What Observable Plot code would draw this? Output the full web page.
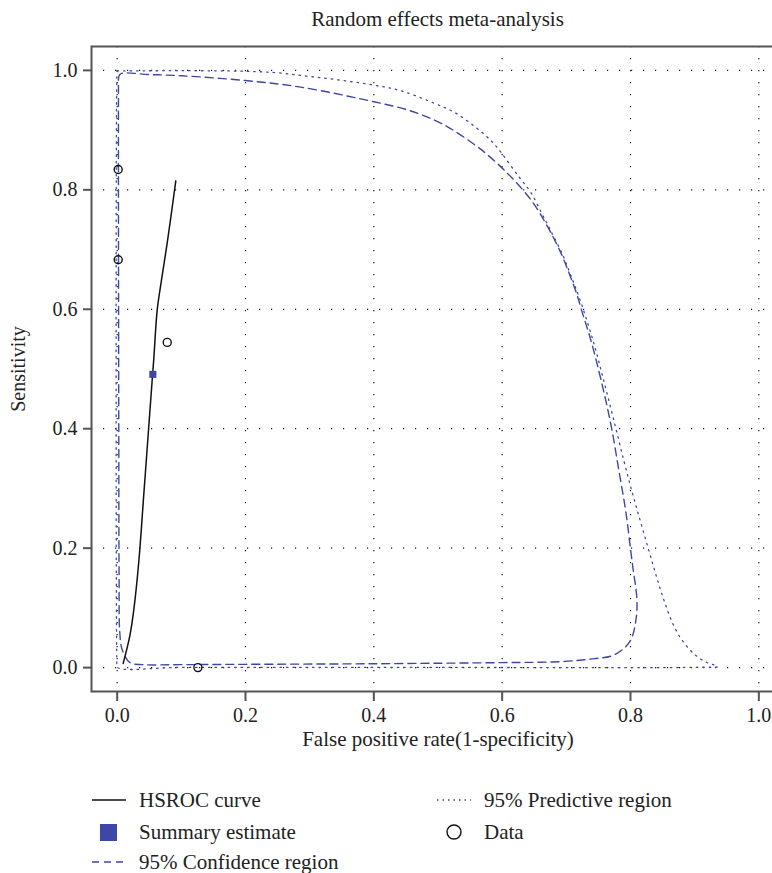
<!DOCTYPE html>
<html>
<head>
<meta charset="utf-8">
<script src="https://cdn.jsdelivr.net/npm/d3@7"></script>
<script src="https://cdn.jsdelivr.net/npm/@observablehq/plot@0.6"></script>
<style>
  html, body { margin: 0; padding: 0; background: #fff; overflow: hidden; }
  #wrap { position: relative; width: 772px; height: 873px; overflow: hidden; font-family: "Liberation Serif", "DejaVu Serif", serif; color: #222; }
  #title { position: absolute; left: 0; width: 875px; top: 7px; text-align: center; font-size: 21px; }
  #chart { position: absolute; left: 0; top: 0; width: 800px; }
  #chart svg { max-width: none !important; width: 800px; height: 762px; }
  .leg { position: absolute; display: flex; align-items: center; height: 30px; font-size: 21px; white-space: nowrap; }
  .leg svg { margin-right: 11px; }
</style>
</head>
<body>
<div id="wrap">
  <div id="chart"></div>
  <div id="title">Random effects meta-analysis</div>
  <div id="legend"></div>
</div>
<script>
// ---- data ----
const xTicks = [0, 0.2, 0.4, 0.6, 0.8, 1.0];
const yTicks = [0, 0.2, 0.4, 0.6, 0.8, 1.0];

// study data (FPR, sensitivity)
const dataFPR  = [0.0016, 0.0016, 0.078, 0.1258];
const dataSens = [0.834, 0.683, 0.5445, 0.0];

// summary estimate
const summaryFPR  = [0.0556];
const summarySens = [0.491];

// HSROC curve
const hsrocFPR  = [0.0094, 0.0197, 0.026, 0.034, 0.0415, 0.049, 0.0546, 0.057, 0.0624, 0.0675, 0.078, 0.0914];
const hsrocSens = [0.007, 0.053, 0.0975, 0.181, 0.29, 0.40, 0.482, 0.516, 0.599, 0.638, 0.711, 0.815];

// 95% confidence region (closed contour)
const confFPR  = [0.002, 0.005, 0.05, 0.1, 0.2, 0.286, 0.40, 0.452, 0.494, 0.525, 0.5616, 0.5746, 0.608, 0.645, 0.671, 0.6916, 0.7045, 0.7176, 0.7236, 0.738, 0.754, 0.77, 0.7825, 0.793, 0.8008, 0.8034, 0.81, 0.8086, 0.8008, 0.788, 0.77, 0.7436, 0.6916, 0.60, 0.4, 0.2, 0.1, 0.04, 0.02, 0.0078, 0.004, 0.003, 0.0025, 0.002, 0.002];
const confSens = [0.985, 0.994, 0.993, 0.991, 0.983, 0.972, 0.9475, 0.934, 0.917, 0.899, 0.872, 0.861, 0.828, 0.783, 0.738, 0.694, 0.66, 0.621, 0.599, 0.549, 0.482, 0.404, 0.326, 0.259, 0.192, 0.170, 0.114, 0.081, 0.047, 0.0306, 0.0194, 0.015, 0.010, 0.0084, 0.0065, 0.0055, 0.005, 0.005, 0.0084, 0.03, 0.06, 0.15, 0.4, 0.8, 0.985];

// 95% predictive region (closed contour)
const predFPR  = [0.0, 0.1, 0.2, 0.25, 0.294, 0.338, 0.40, 0.442, 0.494, 0.525, 0.556, 0.582, 0.600, 0.626, 0.645, 0.662, 0.674, 0.694, 0.7065, 0.72, 0.741, 0.758, 0.775, 0.79, 0.801, 0.812, 0.823, 0.834, 0.844, 0.854, 0.865, 0.879, 0.899, 0.918, 0.936, 0.9, 0.5, 0.1, 0.0, -0.0005, -0.0005, 0.0];
const predSens = [0.999, 0.9995, 0.9985, 0.996, 0.9905, 0.985, 0.9754, 0.966, 0.945, 0.930, 0.907, 0.883, 0.860, 0.822, 0.795, 0.760, 0.735, 0.692, 0.658, 0.62, 0.55, 0.482, 0.41, 0.345, 0.300, 0.258, 0.217, 0.176, 0.140, 0.107, 0.076, 0.048, 0.023, 0.009, 0.002, 0.0005, 0.0003, 0.0003, 0.0005, 0.01, 0.99, 0.999];

// ---- build tables ----
const zip = (xs, ys) => xs.map((x, i) => ({x, y: ys[i]}));
const dataPts = zip(dataFPR, dataSens);
const summary = zip(summaryFPR, summarySens);
const hsroc = zip(hsrocFPR, hsrocSens);
const conf = zip(confFPR, confSens);
const pred = zip(predFPR, predSens);

const blue = "#3f47a6";
const axisGray = "#555";

const chart = Plot.plot({
  width: 800,
  height: 762,
  marginLeft: 91,
  marginRight: 16,
  marginTop: 46,
  marginBottom: 71,
  style: {fontFamily: "Liberation Serif, DejaVu Serif, serif", fontSize: "20px", color: "#222", background: "transparent", maxWidth: "none"},
  x: {domain: [-0.04, 1.04]},
  y: {domain: [-0.04, 1.04]},
  marks: [
    Plot.gridX(xTicks, {stroke: "#000", strokeOpacity: 0.9, strokeWidth: 1.2, strokeDasharray: "1.2,10.8"}),
    Plot.gridY(yTicks, {stroke: "#000", strokeOpacity: 0.9, strokeWidth: 1.2, strokeDasharray: "1.2,10.8"}),
    Plot.line(pred, {x: "x", y: "y", stroke: blue, strokeWidth: 1.3, strokeDasharray: "1.5,5", curve: "catmull-rom"}),
    Plot.line(conf, {x: "x", y: "y", stroke: blue, strokeWidth: 1.4, strokeDasharray: "8,5", curve: "catmull-rom"}),
    Plot.line(hsroc, {x: "x", y: "y", stroke: "#111", strokeWidth: 1.5, curve: "catmull-rom"}),
    Plot.dot(dataPts, {x: "x", y: "y", r: 4, stroke: "#111", strokeWidth: 1.4, fill: "none"}),
    Plot.dot(summary, {x: "x", y: "y", r: 4, symbol: "square", fill: blue, stroke: "none"}),
    Plot.frame({stroke: axisGray, strokeWidth: 2}),
    Plot.axisX(xTicks, {tickSize: 10, tickPadding: 6, tickFormat: d3.format(".1f"), label: null, stroke: axisGray, strokeWidth: 2, fontSize: 20}),
    Plot.axisY(yTicks, {tickSize: 8, tickPadding: 6, tickFormat: d3.format(".1f"), label: null, stroke: axisGray, strokeWidth: 2, fontSize: 20}),
    Plot.text(["False positive rate(1-specificity)"], {frameAnchor: "bottom", dy: 54, fontSize: 21}),
    Plot.text(["Sensitivity"], {frameAnchor: "left", dx: -73, rotate: -90, textAnchor: "middle", fontSize: 20})
  ]
});
document.getElementById("chart").appendChild(chart);

// ---- legend (HTML) ----
const legendItems = [
  {label: "HSROC curve", kind: "solid", left: 92, cy: 800},
  {label: "Summary estimate", kind: "square", left: 92, cy: 832},
  {label: "95% Confidence region", kind: "dashed", left: 92, cy: 862},
  {label: "95% Predictive region", kind: "dotted", left: 437, cy: 800},
  {label: "Data", kind: "circle", left: 437, cy: 832}
];
const legend = document.getElementById("legend");
for (const it of legendItems) {
  const div = document.createElement("div");
  div.className = "leg";
  div.style.left = it.left + "px";
  div.style.top = (it.cy - 15) + "px";
  let sw = "";
  if (it.kind === "solid") sw = `<line x1="0" x2="34" y1="10" y2="10" stroke="#111" stroke-width="1.5"/>`;
  if (it.kind === "dashed") sw = `<line x1="0" x2="34" y1="10" y2="10" stroke="${blue}" stroke-width="1.4" stroke-dasharray="7,5"/>`;
  if (it.kind === "dotted") sw = `<line x1="0" x2="34" y1="10" y2="10" stroke="${blue}" stroke-width="1.3" stroke-dasharray="1.5,4"/>`;
  if (it.kind === "square") sw = `<rect x="8" y="2" width="17" height="17" fill="${blue}"/>`;
  if (it.kind === "circle") sw = `<circle cx="17" cy="10" r="7" fill="none" stroke="#111" stroke-width="1.4"/>`;
  div.innerHTML = `<svg width="36" height="20">${sw}</svg><span>${it.label}</span>`;
  legend.appendChild(div);
}
</script>
</body>
</html>
